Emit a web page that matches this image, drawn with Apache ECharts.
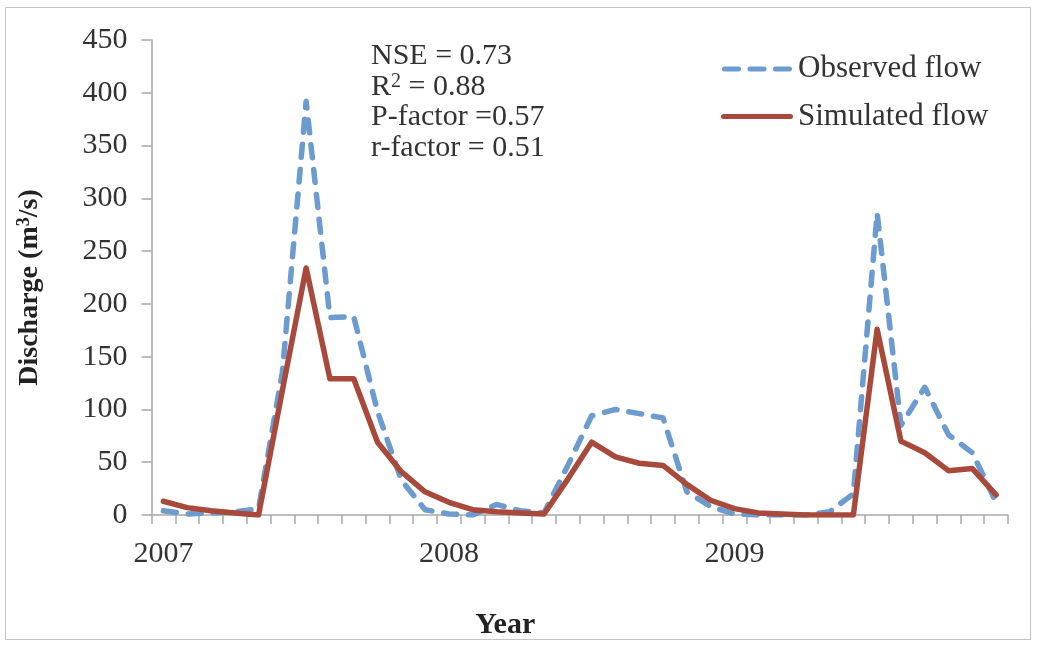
<!DOCTYPE html>
<html>
<head>
<meta charset="utf-8">
<title>Observed and simulated discharge 2007-2009</title>
<script src="https://cdn.jsdelivr.net/npm/echarts@6/dist/echarts.min.js"></script>
<style>
  html, body { margin: 0; padding: 0; background: #ffffff; }
  #chart { width: 1038px; height: 645px; }
</style>
</head>
<body>
<div id="chart"></div>
<script>
// Monthly discharge (m³/s), January 2007 – December 2009
const years = ['2007', '2008', '2009'];
const monthNames = ['01', '02', '03', '04', '05', '06', '07', '08', '09', '10', '11', '12'];
const months = [];
years.forEach(function (y) { monthNames.forEach(function (m) { months.push(y + '-' + m); }); });

const observedFlow = [4, 1, 2, 3, 6, 135, 392, 187, 188, 98, 33, 5,
                      1, 0, 10, 4, 2, 47, 94, 100, 96, 92, 22, 8,
                      1, 0, 0, 0, 3, 20, 286, 85, 121, 76, 59, 12];
const simulatedFlow = [13, 7, 4, 2, 0, 118, 234, 129, 129, 69, 41, 22,
                       12, 5, 3, 2, 1, 34, 69, 55, 49, 47, 29, 14,
                       6, 2, 1, 0, 0, 0, 176, 70, 59, 42, 44, 19];

const yTicks = { min: 0, max: 450, step: 50 };
const statsLines = ['NSE = 0.73', 'R{sup|2} = 0.88', 'P-factor =0.57', 'r-factor = 0.51'];
const seriesNames = ['Observed flow', 'Simulated flow'];

const serif = '"Liberation Serif", "Times New Roman", serif';
const axisGray = '#a9a9a9';
const blue = '#6b9bcf';
const red = '#a9493b';

// legend keys: three rounded dashes for the observed series, a solid bar for the simulated one
const dashKey = 'path://M2.5,0h14a2.5,2.5 0 0 1 0,5h-14a2.5,2.5 0 0 1 0,-5z' +
                'M28,0h14a2.5,2.5 0 0 1 0,5h-14a2.5,2.5 0 0 1 0,-5z' +
                'M53.5,0h14a2.5,2.5 0 0 1 0,5h-14a2.5,2.5 0 0 1 0,-5z';
const solidKey = 'path://M2.5,0h67a2.5,2.5 0 0 1 0,5h-67a2.5,2.5 0 0 1 0,-5z';

const chart = echarts.init(document.getElementById('chart'), null, { renderer: 'canvas' });

chart.setOption({
  backgroundColor: '#ffffff',
  animation: false,
  graphic: [{
    type: 'rect',
    silent: true,
    shape: { x: 5.5, y: 7.5, width: 1025, height: 632 },
    style: { fill: 'none', stroke: '#c4c4c4', lineWidth: 1 }
  }],
  title: {
    text: statsLines.join('\n'),
    left: 366,
    top: 36,
    textStyle: {
      fontFamily: serif,
      fontWeight: 'normal',
      fontSize: 30,
      lineHeight: 30.5,
      color: '#333333',
      rich: {
        sup: { fontFamily: serif, fontSize: 20, lineHeight: 20, verticalAlign: 'top', color: '#333333' }
      }
    }
  },
  legend: {
    orient: 'vertical',
    left: 716,
    top: 46,
    itemWidth: 72,
    itemHeight: 5,
    itemGap: 11.6,
    data: [
      { name: seriesNames[0], icon: dashKey, itemStyle: { color: blue } },
      { name: seriesNames[1], icon: solidKey, itemStyle: { color: red } }
    ],
    textStyle: {
      fontFamily: serif,
      fontSize: 31,
      lineHeight: 36,
      color: '#333333'
    }
  },
  grid: {
    left: 151.5,
    right: 30,
    top: 40,
    bottom: 123.5,
    containLabel: false
  },
  xAxis: {
    type: 'category',
    data: months,
    boundaryGap: true,
    name: 'Year',
    nameLocation: 'middle',
    nameGap: 95,
    nameTextStyle: {
      fontFamily: serif,
      fontWeight: 'bold',
      fontSize: 30,
      color: '#222222',
      padding: [0, 149, 0, 0]
    },
    axisLine: { lineStyle: { color: axisGray, width: 1.5 } },
    axisTick: { show: true, interval: 0, length: 9, alignWithLabel: false, lineStyle: { color: axisGray, width: 1.5 } },
    axisLabel: {
      interval: function (idx) { return idx % 12 === 0; },
      formatter: function (v) { return v.slice(0, 4); },
      margin: 24,
      fontFamily: serif,
      fontSize: 30,
      color: '#333333'
    },
    splitLine: { show: false }
  },
  yAxis: {
    type: 'value',
    min: yTicks.min,
    max: yTicks.max,
    interval: yTicks.step,
    name: 'Discharge (m{sup|3}/s)',
    nameLocation: 'middle',
    nameGap: 108,
    nameTextStyle: {
      fontFamily: serif,
      fontWeight: 'bold',
      fontSize: 28,
      color: '#222222',
      padding: [0, 20, 0, 0],
      rich: {
        sup: { fontFamily: serif, fontWeight: 'bold', fontSize: 18, lineHeight: 18, verticalAlign: 'top', color: '#222222' }
      }
    },
    axisLine: { show: true, lineStyle: { color: axisGray, width: 1.5 } },
    axisTick: { show: true, length: 10, lineStyle: { color: axisGray, width: 1.5 } },
    axisLabel: {
      margin: 24,
      fontFamily: serif,
      fontSize: 30,
      color: '#333333'
    },
    splitLine: { show: false }
  },
  series: [
    {
      name: seriesNames[0],
      type: 'line',
      data: observedFlow,
      symbol: 'none',
      smooth: false,
      lineStyle: { color: blue, width: 5.5, type: [13, 12], cap: 'round', join: 'round' },
      itemStyle: { color: blue },
      z: 2
    },
    {
      name: seriesNames[1],
      type: 'line',
      data: simulatedFlow,
      symbol: 'none',
      smooth: false,
      lineStyle: { color: red, width: 5.5, cap: 'round', join: 'round' },
      itemStyle: { color: red },
      z: 3
    }
  ]
});
</script>
</body>
</html>
